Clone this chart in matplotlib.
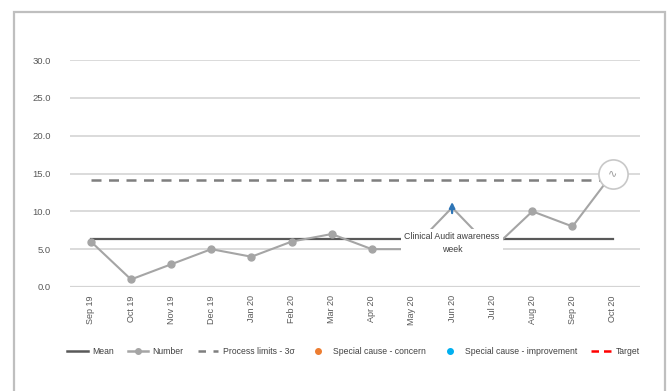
import matplotlib
matplotlib.use("Agg")
import matplotlib.pyplot as plt
import matplotlib.patches as mpatches
from matplotlib.lines import Line2D

plt.rcParams['font.family'] = ['Liberation Sans', 'DejaVu Sans']

months = ['Sep 19', 'Oct 19', 'Nov 19', 'Dec 19', 'Jan 20', 'Feb 20', 'Mar 20',
          'Apr 20', 'May 20', 'Jun 20', 'Jul 20', 'Aug 20', 'Sep 20', 'Oct 20']
number = [6, 1, 3, 5, 4, 6, 7, 5, 5, 10.5, 5, 10, 8, 15]
mean_value = 6.4
upper_limit = 14.1
special_idx = [13]          # point above the process limit
event_idx = 9               # Clinical Audit awareness week
event_label = 'Clinical Audit awareness\nweek'

grey_txt = '#595959'

fig = plt.figure(figsize=(6.67, 3.91), dpi=100)
# card outline
fig.add_artist(mpatches.Rectangle((14 / 667, -0.1), 651 / 667, 1.1 - 12 / 391,
                                  transform=fig.transFigure, fill=False,
                                  edgecolor='#bfbfbf', linewidth=1.6))

ax = fig.add_axes([0.105, 0.266, 0.855, 0.5805])
x = list(range(len(months)))

for yv in range(0, 31, 5):
    ax.axhline(yv, color='#d4d4d4', lw=1.2 if yv else 1.6, zorder=1)

ax.plot([x[0], x[-1]], [mean_value, mean_value], color='#595959', lw=1.6, zorder=3)
ax.plot([x[0], x[-1]], [upper_limit, upper_limit], color='#7f7f7f', lw=1.8,
        ls=(0, (4, 3)), zorder=3)
marks = [i for i in x if i != event_idx]
ax.plot(x, number, color='#a5a5a5', lw=1.5, marker='o', ms=5, markevery=marks,
        markerfacecolor='#a5a5a5', markeredgecolor='#a5a5a5', zorder=4)

for i in special_idx:
    ax.plot(x[i], number[i], marker='o', ms=21, markerfacecolor='white',
            markeredgecolor='#c8c8c8', markeredgewidth=1.2, zorder=6)
    ax.text(x[i], number[i], '\u223f', ha='center', va='center', fontsize=8,
            color='#9a9a9a', family='DejaVu Sans', zorder=7)

ax.text(x[event_idx], 5.8, event_label, ha='center', va='center', fontsize=6.3,
        color='#404040', linespacing=1.6, zorder=8,
        bbox=dict(boxstyle='square,pad=0.4', facecolor='white', edgecolor='none'))
ax.annotate('', xy=(x[event_idx], 11.6), xytext=(x[event_idx], 9.4),
            arrowprops=dict(arrowstyle='-|>', color='#2e75b6', lw=1.6,
                            mutation_scale=8), zorder=9)

ax.set_xlim(-0.52, 13.69)
ax.set_ylim(0, 30)
ax.set_yticks(range(0, 31, 5))
ax.set_yticklabels([f'{v:.1f}' for v in range(0, 31, 5)], fontsize=6.8, color=grey_txt)
ax.set_xticks(x)
ax.set_xticklabels(months, rotation=90, fontsize=6.5, color=grey_txt)
ax.tick_params(length=0, pad=6)
ax.tick_params(axis='y', pad=14)
for s in ax.spines.values():
    s.set_visible(False)

handles = [
    Line2D([], [], color='#595959', lw=1.8),
    Line2D([], [], color='#a5a5a5', lw=1.8, marker='o', ms=4),
    Line2D([], [], color='#7f7f7f', lw=1.8, ls=(0, (3, 3))),
    Line2D([], [], ls='none', marker='o', ms=4, color='#ed7d31'),
    Line2D([], [], ls='none', marker='o', ms=4, color='#00b0f0'),
    Line2D([], [], color='#ff0000', lw=1.8, ls=(0, (3, 2))),
]
labels = ['Mean', 'Number', 'Process limits - 3\u03c3', 'Special cause - concern',
          'Special cause - improvement', 'Target']
fig.legend(handles, labels, loc='center', bbox_to_anchor=(0.53, 0.1), ncol=6,
           frameon=False, fontsize=6.2, handlelength=2.4, columnspacing=1.6,
           handletextpad=0.5, labelcolor='#404040')

fig.savefig('out.png', dpi=100, facecolor='white')
